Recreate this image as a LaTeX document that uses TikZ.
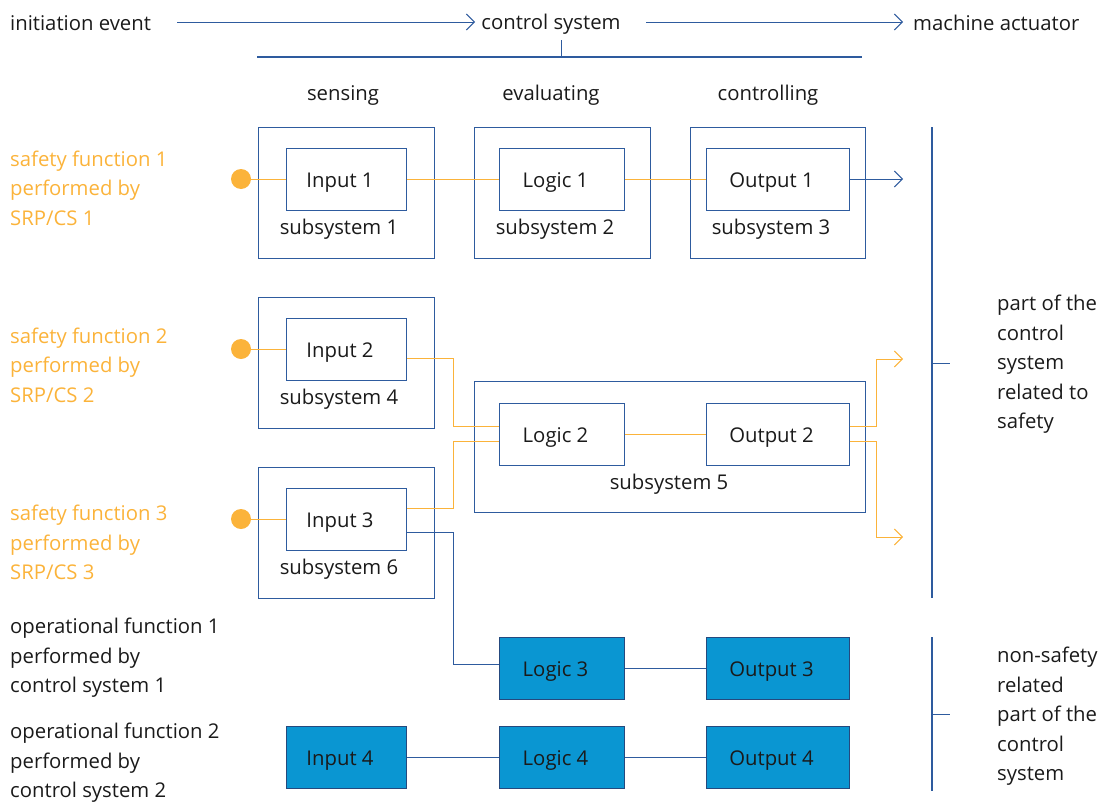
\documentclass[tikz,border=0pt]{standalone}
\usepackage{fontspec}
\setmainfont{Open Sans}
\usetikzlibrary{arrows.meta,calc}
\definecolor{ln}{HTML}{2E5B9E}
\definecolor{org}{HTML}{FBB33A}
\definecolor{fillb}{HTML}{0A96D2}
\definecolor{txt}{HTML}{1A1A1A}
\begin{document}
\begin{tikzpicture}[x=1pt,y=-1pt,
  every node/.style={font=\fontsize{20.3}{29.5}\selectfont, text=txt},
  outer/.style={draw=ln, line width=1pt, inner sep=0pt, minimum height=131pt},
  boxbase/.style={line width=1pt, inner sep=0pt, minimum height=62pt,
    text height=16pt, text depth=0pt, execute at begin node={\kern-12pt}},
  inner/.style={boxbase, draw=ln, fill=white},
  filled/.style={boxbase, draw=ln!80!black, fill=fillb},
  lbl/.style={inner sep=0pt},
  olbl/.style={inner sep=0pt, align=left, anchor=west, text=org},
  blbl/.style={inner sep=0pt, align=left, anchor=west},
  oline/.style={draw=org, line width=1pt},
  bline/.style={draw=ln, line width=1pt},
  tip/.style={-{Straight Barb[length=8pt,width=16pt,line width=1pt]}},
  dot/.style={circle, fill=org, inner sep=0pt, minimum size=20pt}
]
\useasboundingbox (0,0) rectangle (1102,803);

% top line
\node[lbl, anchor=west] (init) at (10,23) {initiation event};
\node[lbl] (cs) at (551,24) {control system};
\node[lbl, anchor=west] (ma) at (913,23) {machine actuator};
\coordinate (a1s) at (177,22);
\coordinate (a1e) at (475,22);
\coordinate (a2s) at (646,22);
\coordinate (a2e) at (903,22);
\draw[bline, tip] (a1s) -- (a1e);
\draw[bline, tip] (a2s) -- (a2e);
\coordinate (vt) at (561,40);
\coordinate (vb) at (561,57);
\coordinate (hl) at (257,57);
\coordinate (hr) at (862,57);
\draw[bline] (vt) -- (vb);
\draw[bline, line width=1.2pt] (hl) -- (hr);

% column headers
\node[lbl] (h1) at (343,95) {sensing};
\node[lbl] (h2) at (551,95) {evaluating};
\node[lbl] (h3) at (768,95) {controlling};

% row 1
\node[outer, minimum width=176pt] (s1) at (346,192.5) {};
\node[outer, minimum width=176pt] (s2) at (562,192.5) {};
\node[outer, minimum width=175pt] (s3) at (777.5,192.5) {};
\node[lbl] (s1l) at (339,229) {subsystem 1};
\node[lbl] (s2l) at (555,229) {subsystem 2};
\node[lbl] (s3l) at (771,229) {subsystem 3};

% row 2/3 outer
\node[outer, minimum width=176pt] (s4) at (346,362.5) {};
\node[outer, minimum width=391pt] (s5) at (669.5,446.5) {};
\node[outer, minimum width=176pt] (s6) at (346,532.5) {};
\node[lbl] (s4l) at (339,399) {subsystem 4};
\node[lbl] (s5l) at (669,484) {subsystem 5};
\node[lbl] (s6l) at (339,569) {subsystem 6};

% left labels
\node[olbl] (sf1) at (10,188) {safety function 1\\performed by\\SRP/CS 1};
\node[olbl] (sf2) at (10,365) {safety function 2\\performed by\\SRP/CS 2};
\node[olbl] (sf3) at (10,542.5) {safety function 3\\performed by\\SRP/CS 3};
\node[blbl] (of1) at (10,658) {operational function 1\\performed by\\control system 1};
\node[blbl] (of2) at (10,763) {operational function 2\\performed by\\control system 2};

% dots
\node[dot] (d1) at (241,179) {};
\node[dot] (d2) at (241,349) {};
\node[dot] (d3) at (241,519) {};

\coordinate (o1e) at (903,179);
\coordinate (o2a) at (903,359);
\coordinate (o2b) at (903,537);

% inner boxes
\node[inner, minimum width=120pt] (in1) at (346,179) {Input 1};
\node[inner, minimum width=125pt] (lg1) at (561.5,179) {Logic 1};
\node[inner, minimum width=143pt] (ou1) at (777.5,179) {Output 1};
\node[inner, minimum width=120pt] (in2) at (346,349) {Input 2};
\node[inner, minimum width=125pt] (lg2) at (561.5,434) {Logic 2};
\node[inner, minimum width=143pt] (ou2) at (777.5,434) {Output 2};
\node[inner, minimum width=120pt] (in3) at (346,519) {Input 3};
\node[filled, minimum width=125pt] (lg3) at (561.5,668) {Logic 3};
\node[filled, minimum width=143pt] (ou3) at (777.5,668) {Output 3};
\node[filled, minimum width=120pt] (in4) at (346,757) {Input 4};
\node[filled, minimum width=125pt] (lg4) at (561.5,757) {Logic 4};
\node[filled, minimum width=143pt] (ou4) at (777.5,757) {Output 4};

% orange connectors
\draw[oline] (d1) -- (in1);
\draw[oline] (in1) -- (lg1);
\draw[oline] (lg1) -- (ou1);
\draw[oline] (d2) -- (in2);
\draw[oline] (d3) -- (in3);
\draw[oline] ([yshift=-9pt]in2.east) -| (453,426) -- ([yshift=8pt]lg2.west);
\draw[oline] ([yshift=11pt]in3.east) -| (453,441) -- ([yshift=-7pt]lg2.west);
\draw[oline] (lg2) -- (ou2);
\draw[oline, tip] ([yshift=8pt]ou2.east) -| (876,359) -- (o2a);
\draw[oline, tip] ([yshift=-7pt]ou2.east) -| (876,537) -- (o2b);

% blue connectors
\draw[bline, tip] (ou1) -- (o1e);
\draw[bline] ([yshift=-13pt]in3.east) -| (453,664) -- ([yshift=4pt]lg3.west);
\draw[bline] (lg3) -- (ou3);
\draw[bline] (in4) -- (lg4);
\draw[bline] (lg4) -- (ou4);

% right brackets
\coordinate (b1t) at (932,127);
\coordinate (b1b) at (932,598);
\coordinate (b1m) at (932,363);
\coordinate (b1k) at (950,363);
\draw[bline, line width=1.2pt] (b1t) -- (b1b);
\draw[bline] (b1m) -- (b1k);
\coordinate (b2t) at (932,637);
\coordinate (b2b) at (932,791);
\coordinate (b2m) at (932,714);
\coordinate (b2k) at (950,714);
\draw[bline, line width=1.2pt] (b2t) -- (b2b);
\draw[bline] (b2m) -- (b2k);
\node[blbl] (rt1) at (997,364.5) {part of the\\control\\system\\related to\\safety};
\node[blbl] (rt2) at (997,716.5) {non-safety\\related\\part of the\\control\\system};
\end{tikzpicture}
\end{document}
